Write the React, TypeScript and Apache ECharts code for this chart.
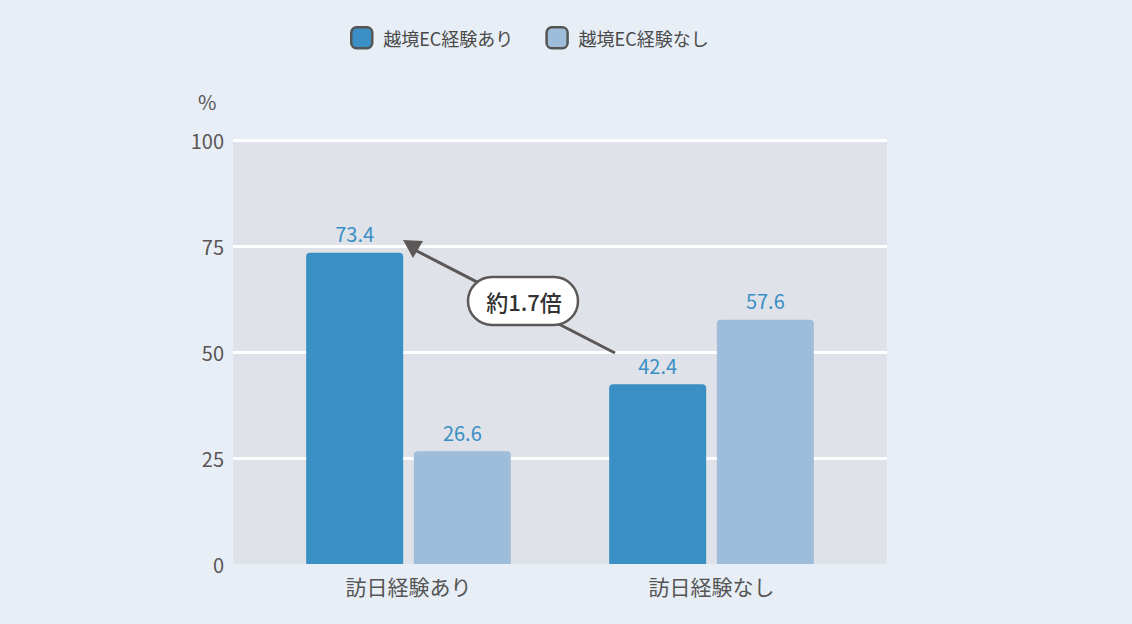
import React, { useEffect, useRef } from "react";
import * as echarts from "echarts";

const categories = ["訪日経験あり", "訪日経験なし"];
const seriesNames = ["越境EC経験あり", "越境EC経験なし"];
const withEC = [73.4, 42.4];
const withoutEC = [26.6, 57.6];
const yTicks = [0, 25, 50, 75, 100];

const FONT = "'Noto Sans CJK JP', 'Noto Sans', sans-serif";
const DARK = "#3a8fc4";
const LIGHT = "#9dbddb";

const App: React.FC = () => {
  const chartRef = useRef<HTMLDivElement>(null);

  useEffect(() => {
    document.body.style.margin = "0";
    if (!chartRef.current) return;
    const chart = echarts.init(chartRef.current, undefined, { renderer: "svg" });

    const option = {
      animation: false,
      backgroundColor: "#e7eef6",
      textStyle: { fontFamily: FONT },
      legend: {
        top: 21,
        left: 345,
        itemWidth: 21,
        itemHeight: 21,
        itemGap: 32,
        icon: "roundRect",
        textStyle: { fontSize: 18, color: "#4a4a4a", fontFamily: FONT, padding: [0, 0, 0, 6] },
        itemStyle: { borderColor: "#555555", borderWidth: 2.5 },
        data: seriesNames,
      },
      grid: [
        // background area with split lines
        { left: 233, right: 245, top: 140, bottom: 60, show: true, backgroundColor: "#dfe2e8", borderWidth: 0 },
        // bars
        { left: 257, right: 269, top: 140, bottom: 60 },
      ],
      xAxis: [
        { gridIndex: 0, type: "value", show: false, min: 0, max: 1 },
        {
          gridIndex: 1,
          type: "category",
          data: categories,
          axisLine: { show: false },
          axisTick: { show: false },
          axisLabel: { fontSize: 21, color: "#555555", margin: 11, fontFamily: FONT },
        },
      ],
      yAxis: [
        {
          gridIndex: 0,
          type: "value",
          min: 0,
          max: 100,
          interval: 25,
          axisLine: { show: false },
          axisTick: { show: false },
          axisLabel: {
            fontSize: 20,
            color: "#5a5555",
            margin: 9,
            fontFamily: FONT,
            formatter: (v: number) => (yTicks.includes(v) ? String(v) : ""),
          },
          splitLine: {
            show: true,
            lineStyle: { color: "#ffffff", width: 3 },
            showMinLine: false,
          },
        },
        { gridIndex: 1, type: "value", min: 0, max: 100, show: false, splitLine: { show: false } },
      ],
      series: [
        {
          name: seriesNames[0],
          type: "bar",
          xAxisIndex: 1,
          yAxisIndex: 1,
          data: withEC,
          barWidth: 97,
          barGap: "11%",
          itemStyle: { color: DARK, borderRadius: [4, 4, 0, 0] },
          label: { show: true, position: "top", distance: 9, fontSize: 20, color: DARK, fontFamily: FONT },
        },
        {
          name: seriesNames[1],
          type: "bar",
          xAxisIndex: 1,
          yAxisIndex: 1,
          data: withoutEC,
          barWidth: 97,
          barGap: "11%",
          itemStyle: { color: LIGHT, borderRadius: [4, 4, 0, 0] },
          label: { show: true, position: "top", distance: 9, fontSize: 20, color: DARK, fontFamily: FONT },
        },
      ],
      graphic: [
        {
          type: "text",
          left: 198,
          top: 91,
          style: { text: "%", fontSize: 20, fill: "#5a5555", fontFamily: FONT },
        },
        {
          type: "line",
          z: 100,
          shape: { x1: 615, y1: 353, x2: 411, y2: 248 },
          style: { stroke: "#5c5858", lineWidth: 3 },
        },
        {
          type: "polygon",
          z: 100,
          shape: { points: [[403, 240], [423, 241], [413, 258]] },
          style: { fill: "#5c5858" },
        },
        {
          type: "rect",
          z: 101,
          shape: { x: 468, y: 277, width: 110, height: 48, r: 24 },
          style: { fill: "#ffffff", stroke: "#5c5858", lineWidth: 2.5 },
        },
        {
          type: "text",
          z: 102,
          x: 524,
          y: 301,
          style: {
            text: "約1.7倍",
            fontSize: 22,
            fontWeight: 500,
            fill: "#333333",
            align: "center",
            verticalAlign: "middle",
            fontFamily: FONT,
          },
        },
      ],
    };

    chart.setOption(option);
    return () => {
      chart.dispose();
    };
  }, []);

  return <div ref={chartRef} style={{ width: "1132px", height: "624px" }} />;
};

export default App;
